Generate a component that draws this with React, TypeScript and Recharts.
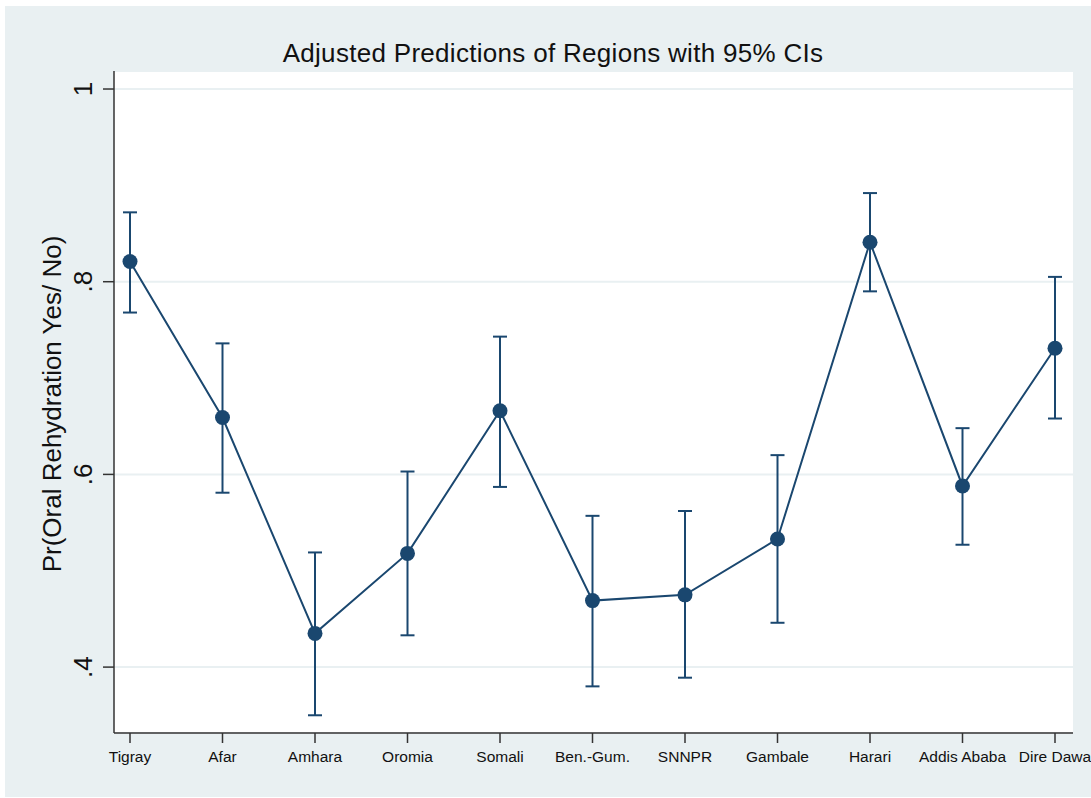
import { ComposedChart, Line, XAxis, YAxis, CartesianGrid, ErrorBar } from 'recharts';

const regions = ['Tigray', 'Afar', 'Amhara', 'Oromia', 'Somali', 'Ben.-Gum.', 'SNNPR', 'Gambale', 'Harari', 'Addis Ababa', 'Dire Dawa'];
const predicted = [0.821, 0.659, 0.435, 0.518, 0.666, 0.469, 0.475, 0.533, 0.841, 0.588, 0.731];
const lower = [0.768, 0.581, 0.350, 0.433, 0.587, 0.380, 0.389, 0.446, 0.790, 0.527, 0.658];
const upper = [0.872, 0.736, 0.519, 0.603, 0.743, 0.557, 0.562, 0.620, 0.892, 0.648, 0.805];
const yTicks = [0.4, 0.6, 0.8, 1];

const data = regions.map((region, i) => ({
    region,
    value: predicted[i],
    ci: [predicted[i] - lower[i], upper[i] - predicted[i]],
}));

const NAVY = '#1a476f';
const FONT = '"Liberation Sans", Arial, Helvetica, sans-serif';

const fmtY = (v: number) => (v === 1 ? '1' : '.' + Math.round(v * 10));

function YTick(props: any) {
    const { x, y, payload } = props;
    return (
        <text
            x={x}
            y={y}
            transform={`rotate(-90 ${x} ${y})`}
            textAnchor="middle"
            fontSize={26}
            fontFamily={FONT}
            fill="#111"
        >
            {fmtY(payload.value)}
        </text>
    );
}

export default function App() {
    return (
        <div style={{ position: 'absolute', left: 0, top: 0, width: 1091, height: 798, background: '#fff', overflow: 'hidden' }}>
            <div style={{ position: 'absolute', left: 5, top: 6, right: 0, bottom: 1, background: '#e9f0f2' }} />
            <div style={{ position: 'absolute', left: 0, top: 0 }}>
                <ComposedChart width={1091} height={798} data={data} margin={{ top: 71, right: 18, left: 0, bottom: 0 }}>
                    <text x={553} y={62} textAnchor="middle" fontSize={26} letterSpacing={0.3} fontFamily={FONT} fill="#111">
                        Adjusted Predictions of Regions with 95% CIs
                    </text>
                    <text
                        x={61}
                        y={404}
                        transform="rotate(-90 61 404)"
                        textAnchor="middle"
                        fontSize={26}
                        fontFamily={FONT}
                        fill="#111"
                    >
                        Pr(Oral Rehydration Yes/ No)
                    </text>
                    <CartesianGrid horizontal vertical={false} fill="#ffffff" stroke="#e9f0f2" strokeWidth={2} />
                    <XAxis
                        dataKey="region"
                        scale="point"
                        padding={{ left: 16, right: 18 }}
                        height={65}
                        stroke="#333"
                        strokeWidth={1.5}
                        tickSize={10}
                        tickMargin={8}
                        tick={{ fill: '#111', fontSize: 15.5, fontFamily: FONT }}
                        interval={0}
                    />
                    <YAxis
                        type="number"
                        width={114}
                        domain={[0.3316, 1.0187]}
                        ticks={yTicks}
                        allowDataOverflow
                        stroke="#333"
                        strokeWidth={1.5}
                        tickSize={11}
                        tickMargin={11}
                        tick={<YTick />}
                    />
                    <Line
                        type="linear"
                        dataKey="value"
                        stroke={NAVY}
                        strokeWidth={2}
                        dot={{ r: 7.5, fill: NAVY, stroke: NAVY, strokeWidth: 0 }}
                        isAnimationActive={false}
                    >
                        <ErrorBar dataKey="ci" direction="y" width={7} stroke={NAVY} strokeWidth={2} />
                    </Line>
                </ComposedChart>
            </div>
        </div>
    );
}
